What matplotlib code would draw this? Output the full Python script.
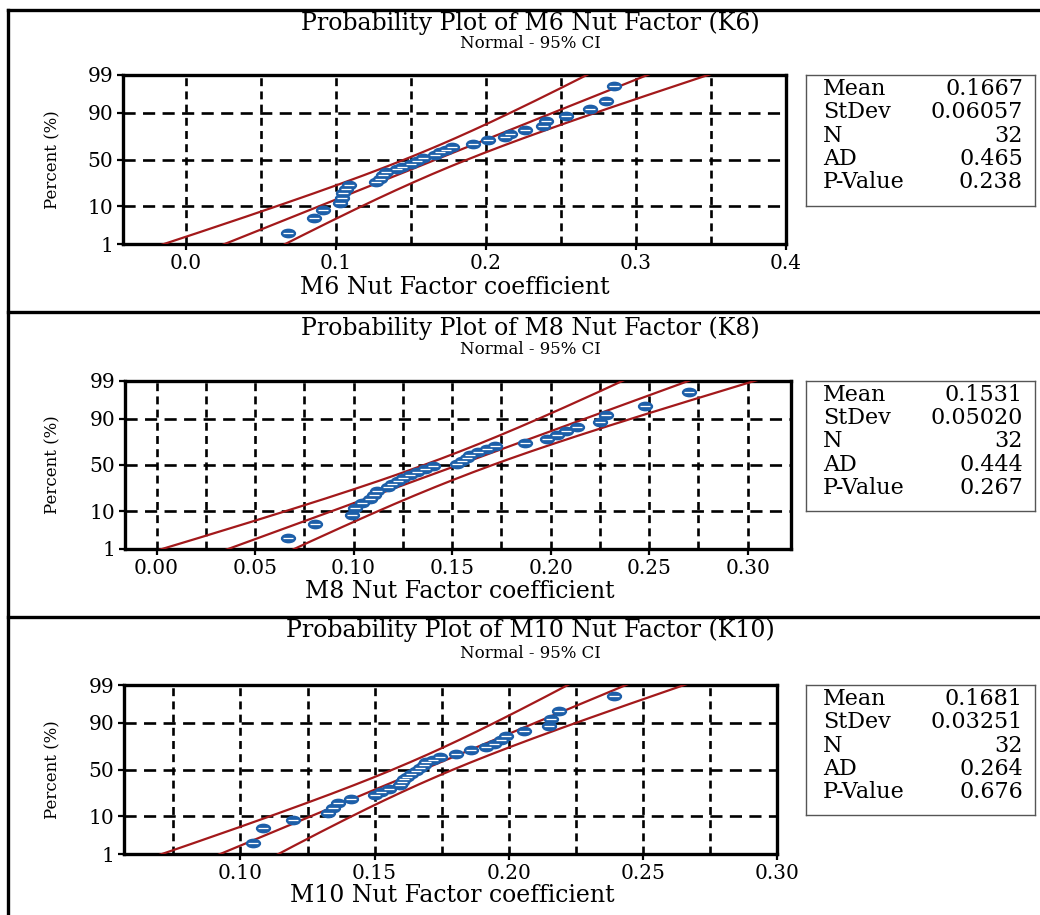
import numpy as np
import matplotlib
matplotlib.use("Agg")
import matplotlib.pyplot as plt
from matplotlib.path import Path
from matplotlib.transforms import Affine2D
from matplotlib.ticker import MultipleLocator, FixedLocator
from statistics import NormalDist

# --- data (sorted nut factor values, n = 32 each) ---
k6_values = [0.0680, 0.0856, 0.0915, 0.1027, 0.1038, 0.1049, 0.1067, 0.1089,
             0.1267, 0.1293, 0.1315, 0.1333, 0.1407, 0.1440, 0.1500, 0.1540,
             0.1580, 0.1660, 0.1690, 0.1730, 0.1770, 0.1910, 0.2010, 0.2127,
             0.2160, 0.2260, 0.2380, 0.2398, 0.2530, 0.2690, 0.2800, 0.2850]
k8_values = [0.0668, 0.0804, 0.0990, 0.1007, 0.1041, 0.1083, 0.1104, 0.1120,
             0.1176, 0.1193, 0.1227, 0.1252, 0.1286, 0.1320, 0.1362, 0.1404,
             0.1523, 0.1548, 0.1574, 0.1590, 0.1633, 0.1675, 0.1717, 0.1870,
             0.1980, 0.2030, 0.2080, 0.2132, 0.2250, 0.2280, 0.2479, 0.2704]
k10_values = [0.1045, 0.1084, 0.1196, 0.1326, 0.1345, 0.1363, 0.1413, 0.1500,
              0.1525, 0.1553, 0.1593, 0.1603, 0.1610, 0.1622, 0.1637, 0.1655,
              0.1668, 0.1685, 0.1692, 0.1717, 0.1742, 0.1804, 0.1860, 0.1916,
              0.1947, 0.1972, 0.1990, 0.2058, 0.2149, 0.2158, 0.2189, 0.2394]

titles = ["Probability Plot of M6 Nut Factor (K6)",
          "Probability Plot of M8 Nut Factor (K8)",
          "Probability Plot of M10 Nut Factor (K10)"]
subtitle = "Normal - 95% CI"
xlabels = ["M6 Nut Factor coefficient", "M8 Nut Factor coefficient",
           "M10 Nut Factor coefficient"]
ylabel = "Percent (%)"

stat_names = ["Mean", "StDev", "N", "AD", "P-Value"]
k6_stats = ["0.1667", "0.06057", "32", "0.465", "0.238"]
k8_stats = ["0.1531", "0.05020", "32", "0.444", "0.267"]
k10_stats = ["0.1681", "0.03251", "32", "0.264", "0.676"]

y_ticks = [1, 10, 50, 90, 99]
k6_xticks = [0.0, 0.1, 0.2, 0.3, 0.4]
k6_xlabels = ["0.0", "0.1", "0.2", "0.3", "0.4"]
k8_xticks = [0.00, 0.05, 0.10, 0.15, 0.20, 0.25, 0.30]
k8_xlabels = ["0.00", "0.05", "0.10", "0.15", "0.20", "0.25", "0.30"]
k10_xticks = [0.10, 0.15, 0.20, 0.25, 0.30]
k10_xlabels = ["0.10", "0.15", "0.20", "0.25", "0.30"]

# --- look ---
W, H = 1040, 915
plt.rcParams['font.family'] = ['DejaVu Serif', 'Liberation Serif']
BLUE = '#1d5fa9'
RED = '#a3191b'

nd = NormalDist()
_ppf = np.vectorize(lambda p: nd.inv_cdf(p), otypes=[float])
_cdf = np.vectorize(lambda z: nd.cdf(z), otypes=[float])


def fwd(p):
    p = np.clip(np.asarray(p, dtype=float) / 100.0, 1e-9, 1 - 1e-9)
    return _ppf(p)


def inv(z):
    return _cdf(np.asarray(z, dtype=float)) * 100.0


ellipse = Path.unit_circle().transformed(Affine2D().scale(1.0, 0.6))

panels = [
    dict(vals=k6_values, stats=k6_stats, ticks=k6_xticks, tlabels=k6_xlabels,
         box=(123, 75, 786, 244), xlim=(-0.042, 0.4), grid=0.05,
         title_y=23, sub_y=44, xlab=(455, 287), top=9.5, sbox=(806, 75, 1035, 206)),
    dict(vals=k8_values, stats=k8_stats, ticks=k8_xticks, tlabels=k8_xlabels,
         box=(125, 381, 791, 549), xlim=(-0.016, 0.322), grid=0.025,
         title_y=328, sub_y=350, xlab=(460, 592), top=312, sbox=(806, 381, 1035, 511)),
    dict(vals=k10_values, stats=k10_stats, ticks=k10_xticks, tlabels=k10_xlabels,
         box=(124, 685, 777, 854), xlim=(0.0566, 0.30), grid=0.025,
         title_y=630, sub_y=653, xlab=(452, 895), top=616.5, sbox=(806, 685, 1035, 815)),
]

fig = plt.figure(figsize=(W / 100, H / 100), dpi=100)

for i, pn in enumerate(panels):
    l, t, r, b = pn['box']
    ax = fig.add_axes([l / W, 1 - b / H, (r - l) / W, (b - t) / H])
    ax.set_yscale('function', functions=(fwd, inv))

    vals = np.array(pn['vals'])
    n = len(vals)
    mean = float(pn['stats'][0])
    sd = float(pn['stats'][1])

    # fitted line and 95% CI band from the shown mean / stdev
    z = np.linspace(-2.6, 2.6, 200)
    pct = inv(z)
    fit = mean + sd * z
    half = 1.96 * sd * np.sqrt(1.0 / n + z ** 2 / (2.0 * n))
    ax.plot(fit, pct, color=RED, lw=1.6, zorder=3)
    ax.plot(fit - half, pct, color=RED, lw=1.6, zorder=3)
    ax.plot(fit + half, pct, color=RED, lw=1.6, zorder=3)

    # median rank plotting positions
    ranks = np.arange(1, n + 1)
    pos = (ranks - 0.3) / (n + 0.4) * 100
    ax.plot(vals, pos, linestyle='none', marker=ellipse, ms=10,
            color=BLUE, mec=BLUE, zorder=4)
    ax.plot(vals, pos, linestyle='none', marker='_', ms=6.5, mew=0.9,
            color='white', zorder=5)

    ax.set_xlim(*pn['xlim'])
    ax.set_ylim(1, 99)
    ax.yaxis.set_major_locator(FixedLocator(y_ticks))
    ax.set_yticklabels([str(v) for v in y_ticks])
    ax.yaxis.set_minor_locator(FixedLocator([]))
    ax.set_xticks(pn['ticks'])
    ax.set_xticklabels(pn['tlabels'])
    ax.xaxis.set_minor_locator(MultipleLocator(pn['grid']))

    ax.set_axisbelow(True)
    ax.grid(axis='x', which='both', color='black', lw=1.9,
            linestyle=(0, (3.0, 2.0)))
    ax.grid(axis='y', which='major', color='black', lw=1.9,
            linestyle=(0, (4.6, 2.8)))
    ax.tick_params(axis='both', which='major', direction='out', length=4,
                   width=1.6, labelsize=14.5, pad=3, color='black')
    ax.tick_params(axis='x', which='minor', length=0)
    for s in ax.spines.values():
        s.set_linewidth(2.4)
        s.set_color('black')

    # texts
    fig.text(530 / W, 1 - pn['title_y'] / H, titles[i], ha='center',
             va='center', fontsize=17)
    fig.text(530 / W, 1 - pn['sub_y'] / H, subtitle, ha='center',
             va='center', fontsize=12)
    fig.text(pn['xlab'][0] / W, 1 - pn['xlab'][1] / H, xlabels[i],
             ha='center', va='center', fontsize=17)
    fig.text(53 / W, 1 - ((t + b) / 2) / H, ylabel, rotation=90,
             ha='center', va='center', fontsize=12)

    # statistics box
    sl, st, sr, sb = pn['sbox']
    sax = fig.add_axes([sl / W, 1 - sb / H, (sr - sl) / W, (sb - st) / H])
    sax.set_xticks([])
    sax.set_yticks([])
    for s in sax.spines.values():
        s.set_linewidth(1.0)
        s.set_color('#555555')
    for k, (name, val) in enumerate(zip(stat_names, pn['stats'])):
        yy = 1 - (14.3 + 23.1 * k) / (sb - st)
        sax.text((823 - sl) / (sr - sl), yy, name, ha='left', va='center',
                 fontsize=16, transform=sax.transAxes)
        sax.text((1023 - sl) / (sr - sl), yy, val, ha='right', va='center',
                 fontsize=16, transform=sax.transAxes)

    # panel frame lines
    y0 = 1 - pn['top'] / H
    fig.add_artist(plt.Line2D([7.5 / W, 1.0], [y0, y0], color='black',
                              lw=2.4, transform=fig.transFigure))

fig.add_artist(plt.Line2D([7.5 / W, 7.5 / W], [1 - 9.5 / H, 0], color='black',
                          lw=2.4, transform=fig.transFigure))

fig.savefig("out.png", dpi=100)
